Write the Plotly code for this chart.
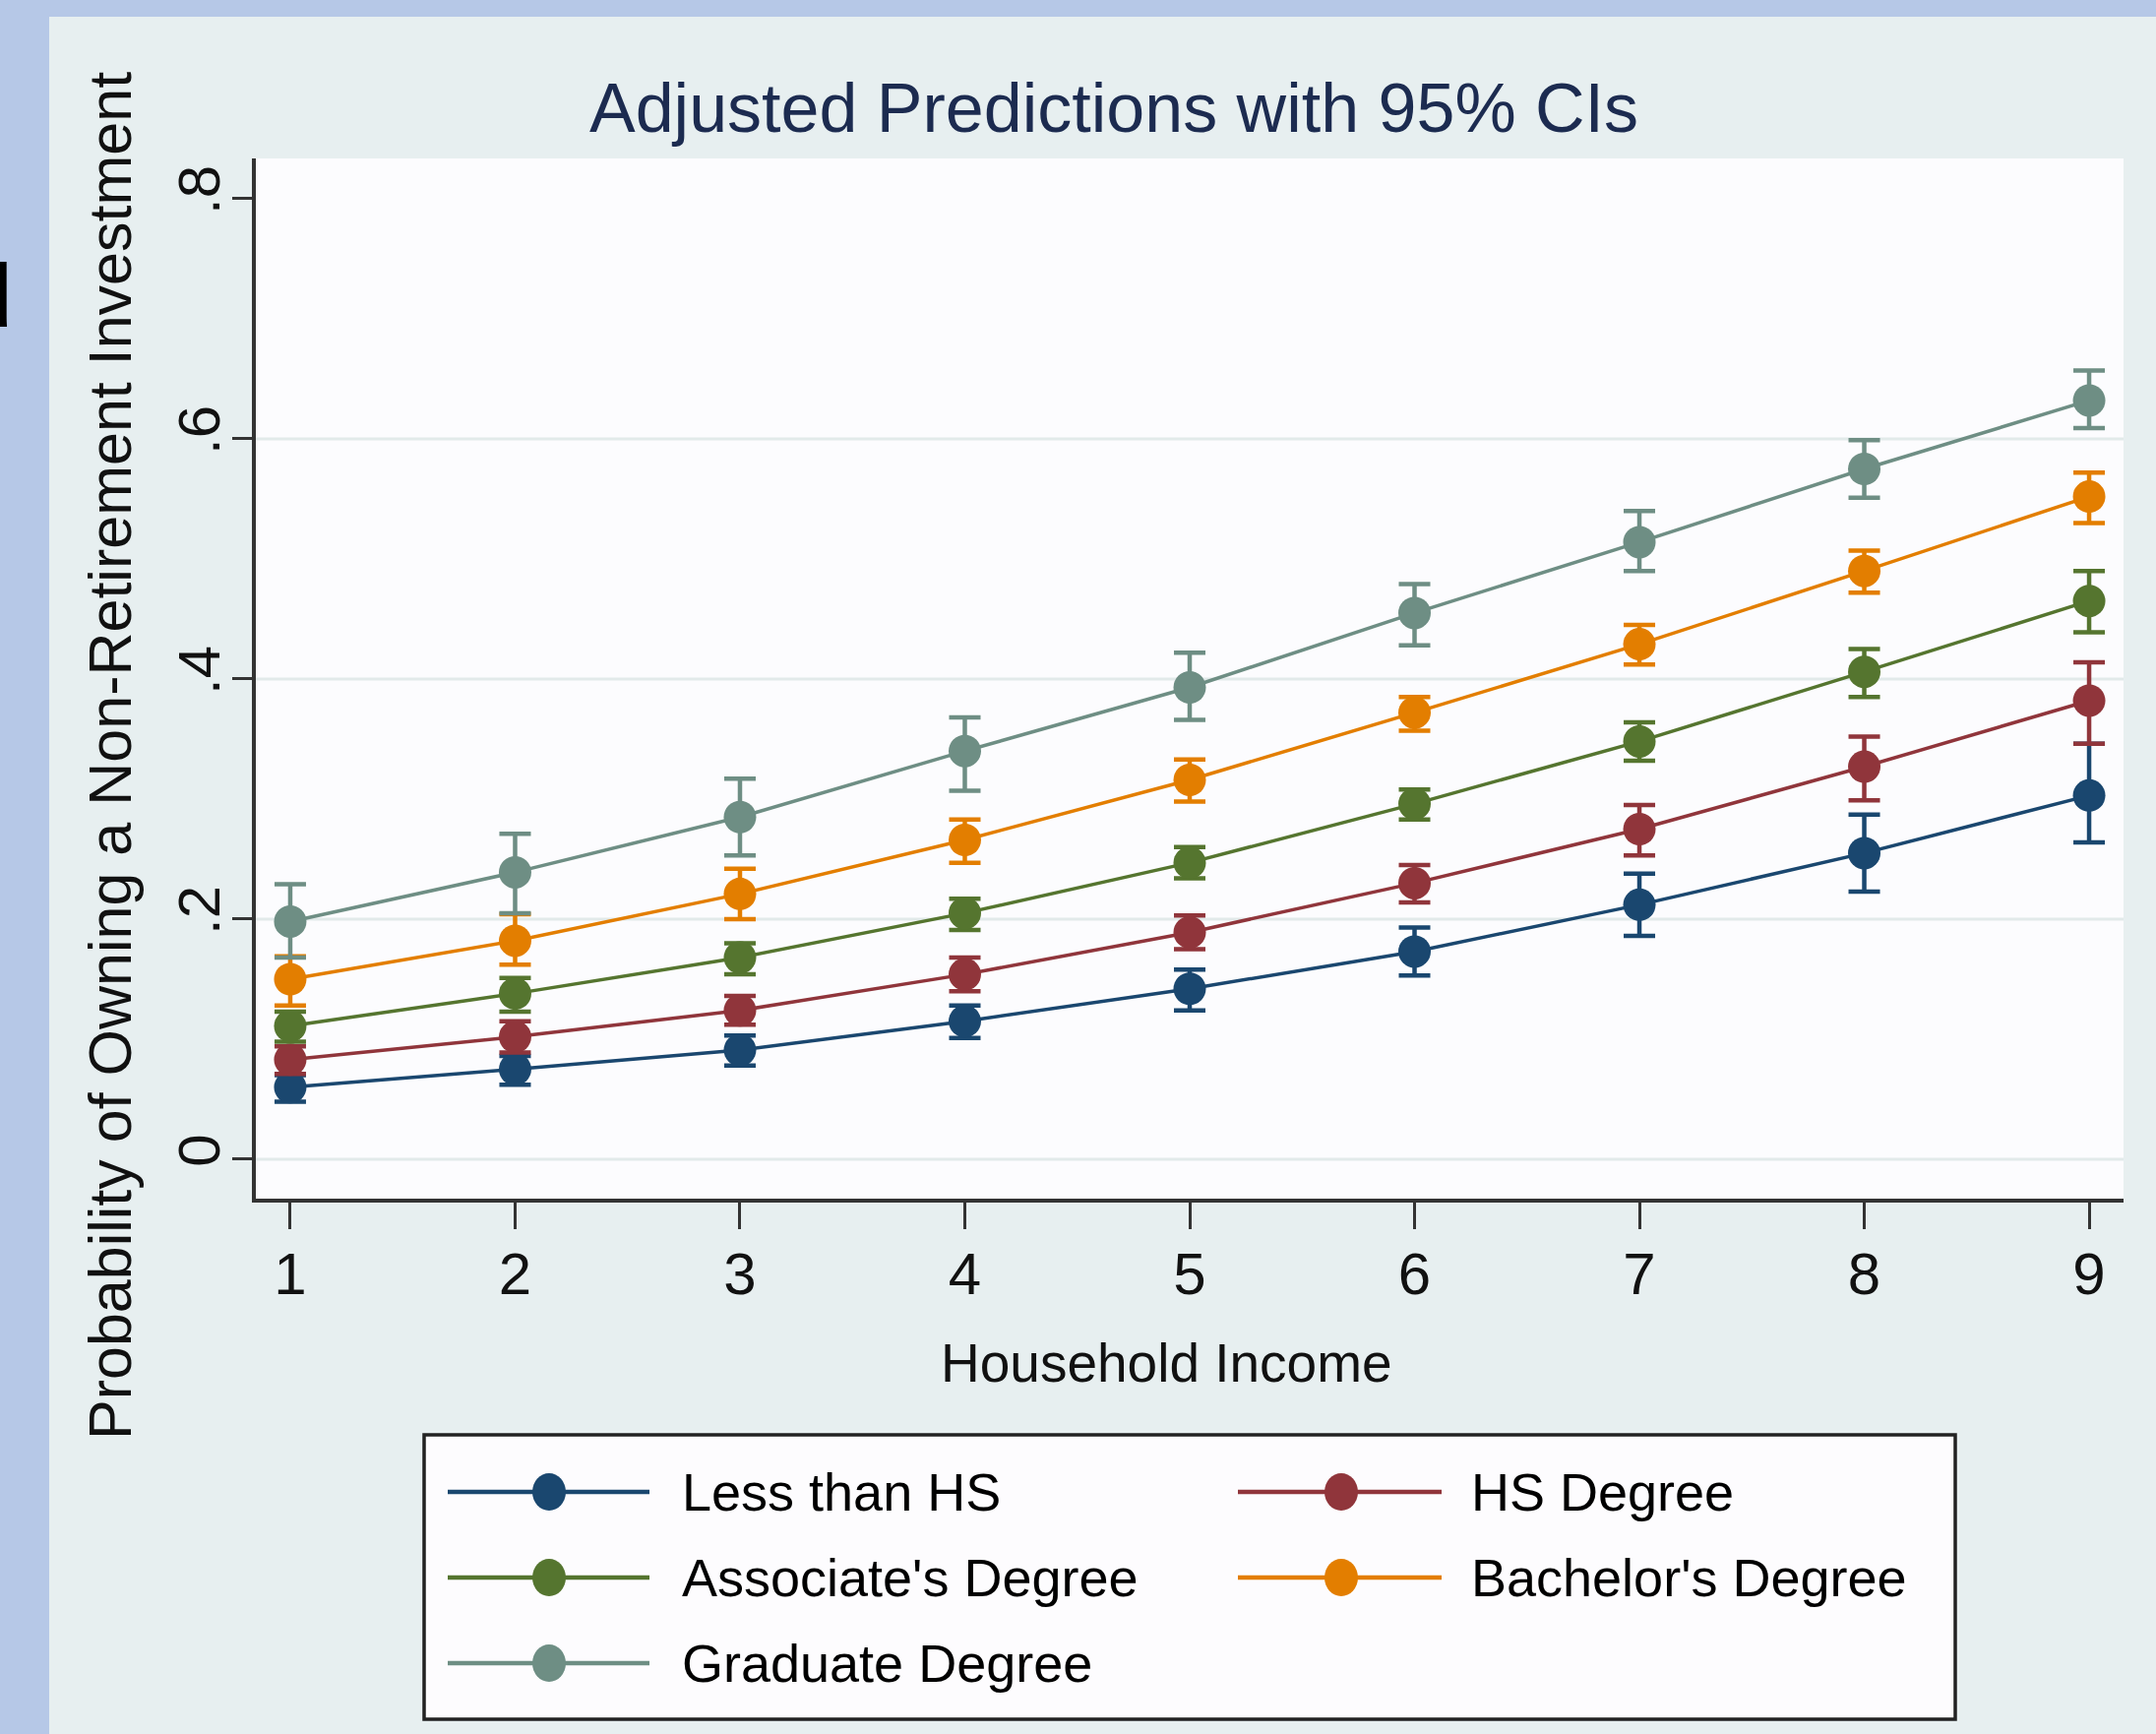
import plotly.graph_objects as go

# Household income categories (x axis)
income = [1, 2, 3, 4, 5, 6, 7, 8, 9]
income_labels = ["1", "2", "3", "4", "5", "6", "7", "8", "9"]

# Adjusted predictions with lower / upper 95% confidence limits by education level
less_hs = [0.060, 0.075, 0.091, 0.115, 0.142, 0.173, 0.212, 0.255, 0.303]
less_hs_lo = [0.048, 0.062, 0.078, 0.101, 0.124, 0.153, 0.186, 0.223, 0.264]
less_hs_hi = [0.070, 0.086, 0.103, 0.128, 0.158, 0.193, 0.238, 0.287, 0.346]

hs_degree = [0.083, 0.102, 0.124, 0.154, 0.189, 0.230, 0.275, 0.327, 0.382]
hs_degree_lo = [0.071, 0.089, 0.112, 0.140, 0.175, 0.214, 0.253, 0.299, 0.346]
hs_degree_hi = [0.094, 0.115, 0.136, 0.168, 0.203, 0.245, 0.295, 0.352, 0.414]

associate = [0.111, 0.138, 0.168, 0.205, 0.247, 0.296, 0.348, 0.406, 0.465]
associate_lo = [0.098, 0.123, 0.154, 0.191, 0.234, 0.283, 0.332, 0.385, 0.439]
associate_hi = [0.123, 0.151, 0.180, 0.217, 0.260, 0.308, 0.364, 0.425, 0.490]

bachelor = [0.150, 0.182, 0.221, 0.266, 0.316, 0.372, 0.429, 0.490, 0.552]
bachelor_lo = [0.128, 0.162, 0.200, 0.247, 0.298, 0.357, 0.412, 0.472, 0.530]
bachelor_hi = [0.169, 0.204, 0.242, 0.283, 0.333, 0.385, 0.445, 0.507, 0.572]

graduate = [0.198, 0.239, 0.285, 0.340, 0.393, 0.455, 0.514, 0.575, 0.632]
graduate_lo = [0.168, 0.205, 0.253, 0.307, 0.366, 0.428, 0.490, 0.551, 0.609]
graduate_hi = [0.229, 0.271, 0.317, 0.368, 0.422, 0.479, 0.540, 0.599, 0.657]

series_names = ["Less than HS", "HS Degree", "Associate's Degree",
                "Bachelor's Degree", "Graduate Degree"]
y_tick_vals = [0, 0.2, 0.4, 0.6, 0.8]
y_tick_text = ["0", ".2", ".4", ".6", ".8"]
grid_vals = [0, 0.2, 0.4, 0.6]

series = [
    (less_hs, less_hs_lo, less_hs_hi, "#1a476f"),
    (hs_degree, hs_degree_lo, hs_degree_hi, "#90353b"),
    (associate, associate_lo, associate_hi, "#55752f"),
    (bachelor, bachelor_lo, bachelor_hi, "#e37e00"),
    (graduate, graduate_lo, graduate_hi, "#6e8e84"),
]

W, H = 2191, 1762
PL, PR, PT, PB = 260, 2158, 161, 1218   # plot area edges in pixels


def xp(px):
    return (px - PL) / (PR - PL)


def yp(py):
    return (PB - py) / (PB - PT)


FONT = "Liberation Sans, Arial, sans-serif"

fig = go.Figure()
for (vals, lo, hi, color), name in zip(series, series_names):
    fig.add_trace(go.Scatter(
        x=income, y=vals, name=name, mode="lines+markers",
        line=dict(color=color, width=3.5),
        marker=dict(color=color, size=33),
        error_y=dict(type="data", symmetric=False,
                     array=[h - v for h, v in zip(hi, vals)],
                     arrayminus=[v - l for v, l in zip(vals, lo)],
                     color=color, thickness=4.5, width=16),
        showlegend=False,
    ))

shapes = [
    # graph region
    dict(type="rect", xref="paper", yref="paper", layer="below",
         x0=xp(50), x1=xp(W + 10), y0=yp(17), y1=yp(H + 10),
         fillcolor="#e7eff0", line=dict(width=0)),
    # plot region
    dict(type="rect", xref="paper", yref="paper", layer="below",
         x0=0, x1=1, y0=0, y1=1, fillcolor="#fcfcfe", line=dict(width=0)),
]
for g in grid_vals:
    shapes.append(dict(type="line", xref="paper", yref="y", layer="below",
                       x0=0, x1=1, y0=g, y1=g,
                       line=dict(color="#e2eaea", width=3)))

# legend box
shapes.append(dict(type="rect", xref="paper", yref="paper",
                   x0=xp(431), x1=xp(1987), y0=yp(1747), y1=yp(1458),
                   fillcolor="#fdfcfe", line=dict(color="#222222", width=3.5)))

legend_slots = [(455, 660, 558, 695, 1516), (1258, 1465, 1363, 1497, 1516),
                (455, 660, 558, 695, 1603), (1258, 1465, 1363, 1497, 1603),
                (455, 660, 558, 695, 1690)]
annotations = []
for (x0, x1, xm, xt, yr), (_, _, _, color), name in zip(legend_slots, series, series_names):
    shapes.append(dict(type="line", xref="paper", yref="paper",
                       x0=xp(x0), x1=xp(x1), y0=yp(yr), y1=yp(yr),
                       line=dict(color=color, width=4.5)))
    shapes.append(dict(type="circle", xref="paper", yref="paper",
                       x0=xp(xm - 17), x1=xp(xm + 17), y0=yp(yr + 19), y1=yp(yr - 19),
                       fillcolor=color, line=dict(width=0)))
    annotations.append(dict(text=name, xref="paper", yref="paper",
                            x=xp(xt - 4), y=yp(yr), xanchor="left", yanchor="middle",
                            showarrow=False, font=dict(family=FONT, size=54, color="#000000")))

annotations += [
    dict(text="Adjusted Predictions with 95% CIs", xref="paper", yref="paper",
         x=xp(1132), y=yp(110), xanchor="center", yanchor="middle", showarrow=False,
         font=dict(family=FONT, size=70, color="#1c2b50")),
    dict(text="Household Income", xref="paper", yref="paper",
         x=xp(1185), y=yp(1385), xanchor="center", yanchor="middle", showarrow=False,
         font=dict(family=FONT, size=55, color="#111111")),
    dict(text="Probability of Owning a Non-Retirement Investment", xref="paper", yref="paper",
         x=xp(112), y=yp(768), xanchor="center", yanchor="middle", textangle=-90,
         showarrow=False, font=dict(family=FONT, size=61, color="#111111")),
    dict(text="d", xref="paper", yref="paper",
         x=xp(15), y=yp(301), xanchor="right", yanchor="middle", showarrow=False,
         font=dict(family=FONT, size=90, color="#000000", weight="bold")),
]

fig.update_layout(
    width=W, height=H,
    margin=dict(l=PL, r=W - PR, t=PT, b=H - PB, pad=0),
    paper_bgcolor="#b6c8e7",
    plot_bgcolor="rgba(0,0,0,0)",
    showlegend=False,
    shapes=shapes,
    annotations=annotations,
    xaxis=dict(range=[0.847, 9.153], tickvals=income, ticktext=income_labels,
               ticks="outside", ticklen=27, tickwidth=3, tickcolor="#333333",
               showline=True, linecolor="#333333", linewidth=3.5,
               showgrid=False, zeroline=False, ticklabelstandoff=-6,
               tickfont=dict(family=FONT, size=60, color="#111111")),
    yaxis=dict(range=[-0.0328, 0.8336], tickvals=y_tick_vals, ticktext=y_tick_text,
               tickangle=-90, ticks="outside", ticklen=20, tickwidth=3,
               tickcolor="#333333", showline=True, linecolor="#333333", linewidth=3.5,
               showgrid=False, zeroline=False, ticklabelstandoff=-11,
               tickfont=dict(family=FONT, size=60, color="#111111")),
)

fig.write_html("out.html")
